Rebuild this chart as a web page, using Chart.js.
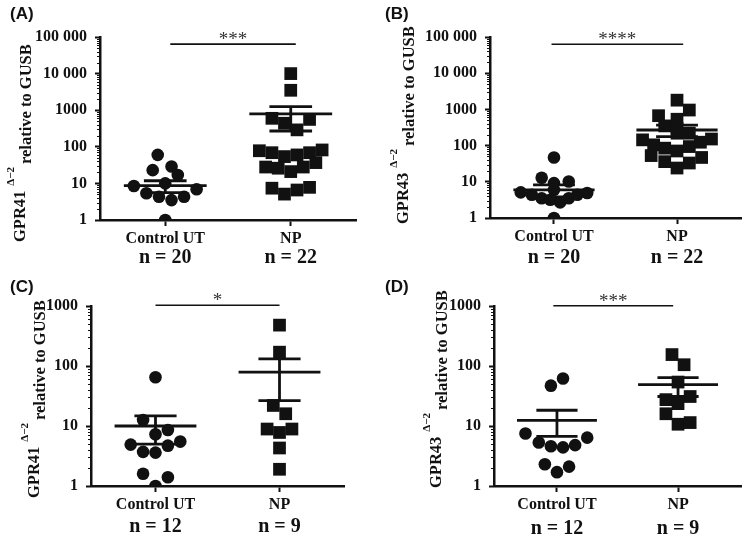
<!DOCTYPE html>
<html>
<head>
<meta charset="utf-8">
<script src="https://cdn.jsdelivr.net/npm/chart.js@4.4.1/dist/chart.umd.min.js"></script>
<style>
  html, body { margin: 0; padding: 0; background: #fff; }
  #fig { position: relative; width: 750px; height: 537px; overflow: hidden; }
  .panel { position: absolute; }
</style>
</head>
<body>
<div id="fig">
  <div class="panel" style="left:0;top:0;width:375px;height:268px"><canvas id="chart-a"></canvas></div>
  <div class="panel" style="left:375px;top:0;width:375px;height:268px"><canvas id="chart-b"></canvas></div>
  <div class="panel" style="left:0;top:268px;width:375px;height:269px"><canvas id="chart-c"></canvas></div>
  <div class="panel" style="left:375px;top:268px;width:375px;height:269px"><canvas id="chart-d"></canvas></div>
</div>
<script>
const GROUPS = ['Control UT', 'NP'];
const Y_LABELS = ['1', '10', '100', '1000', '10 000', '100 000'];

// (A) GPR41, full cohort
const A_CTRL = [1, 8.5, 6.9, 60, 23, 29, 17, 10, 5.4, 4.3, 3.5, 4.3];
const A_CTRL_JIT = [0, -0.25, 0.25, -0.06, -0.1, 0.05, 0.1, 0, -0.15, -0.05, 0.05, 0.15];
const A_NP = [10000, 3500, 600, 440, 560, 290, 78, 69, 54, 60, 69, 82, 28, 26, 21, 28, 37, 7.4, 5.1, 6.6, 7.8];
const A_NP_JIT = [0, 0, -0.15, -0.05, 0.15, 0.05, -0.25, -0.15, -0.05, 0.05, 0.15, 0.25, -0.2, -0.1, 0, 0.1, 0.2, -0.15, -0.05, 0.05, 0.15];
const A_MEAN = [8.7, 790];
const A_SEM_HI = [11.8, 1250];
const A_SEM_LO = [5.6, 270];
const A_N = ['n = 20', 'n = 22'];

// (B) GPR43, full cohort
const B_CTRL = [1, 47, 13, 10.2, 9.2, 6, 5.1, 4.4, 3.5, 3.2, 2.7, 3.5, 4.4, 4.9];
const B_CTRL_JIT = [0, 0, -0.1, 0.12, 0, 0, -0.27, -0.18, -0.1, -0.03, 0.05, 0.12, 0.19, 0.27];
const B_NP = [1800, 960, 670, 535, 350, 300, 220, 220, 144, 105, 85, 71, 94, 124, 152, 53, 36, 24, 33, 47];
const B_NP_JIT = [0, 0.1, -0.15, 0, -0.1, 0, 0, 0.1, -0.28, -0.19, -0.1, 0, 0.1, 0.19, 0.28, -0.21, -0.1, 0, 0.1, 0.2];
const B_MEAN = [6.0, 270];
const B_SEM_HI = [8.2, 370];
const B_SEM_LO = [3.8, 178];
const B_N = ['n = 20', 'n = 22'];

// (C) GPR41, subgroup
const C_CTRL = [65, 12.6, 7.3, 8.6, 5.5, 4.7, 3.7, 3.6, 1.6, 1.4, 1, 4.9];
const C_CTRL_JIT = [0, -0.1, 0, 0.1, 0.2, 0.1, -0.1, 0, -0.1, 0.1, 0, -0.2];
const C_NP = [480, 170, 22, 16, 8.9, 7.8, 8.9, 4.3, 1.9];
const C_NP_JIT = [0, 0, -0.05, 0.05, -0.1, 0, 0.1, 0, 0];
const C_MEAN = [10, 79];
const C_SEM_HI = [14.8, 131];
const C_SEM_LO = [5.0, 26.5];
const C_N = ['n = 12', 'n = 9'];

// (D) GPR43, subgroup
const D_CTRL = [62, 47, 7.5, 5.3, 4.6, 4.4, 4.8, 6.4, 2.3, 1.7, 2.1];
const D_CTRL_JIT = [0.05, -0.05, -0.26, -0.15, -0.05, 0.05, 0.15, 0.25, -0.1, 0, 0.1];
const D_NP = [155, 105, 54, 27.5, 31, 23.6, 16, 10.7, 11.4];
const D_NP_JIT = [-0.05, 0.05, 0, -0.1, 0.1, 0, -0.1, 0, 0.1];
const D_MEAN = [12.4, 49];
const D_SEM_HI = [18.3, 64];
const D_SEM_LO = [6.7, 31];
const D_N = ['n = 12', 'n = 9'];

const STARS = ['***', '****', '*', '***'];
const SIG_Y = [64000, 63000, 1030, 1010];
const SIG_FROM = [1.04, 0.98, 1.0, 0.97];
const SIG_TO = [2.04, 2.05, 2.0, 1.96];

const INK = '#111';
Chart.defaults.font.family = '"Liberation Serif", serif';
Chart.defaults.color = INK;

function seg(x0, x1, y0, y1, width) {
  return {
    data: [{ x: x0, y: y0 }, { x: x1, y: y1 }],
    showLine: true, borderColor: INK, borderWidth: width || 2.8,
    pointRadius: 0, pointHoverRadius: 0,
  };
}

var annotate = {
  id: 'annotate',
  afterDraw: function(chart, args, o) {
    var ctx = chart.ctx, sx = chart.scales.x, sy = chart.scales.y;
    ctx.save();
    ctx.fillStyle = INK;

    ctx.font = 'bold 17px "Liberation Sans"';
    ctx.textAlign = 'left';
    ctx.textBaseline = 'alphabetic';
    ctx.fillText(o.letter, o.letterX, o.letterY);

    ctx.fillStyle = '#333';
    ctx.font = '19px "Liberation Serif"';
    ctx.textAlign = 'center';
    var mid = (sx.getPixelForValue(o.sigFrom) + sx.getPixelForValue(o.sigTo)) / 2;
    ctx.fillText(o.stars, mid, sy.getPixelForValue(o.sigY) + 1);
    ctx.fillStyle = INK;

    ctx.font = 'bold 20px "Liberation Serif"';
    o.n.forEach(function(t, i) {
      ctx.fillText(t, sx.getPixelForValue(i + 1), chart.chartArea.bottom + o.nOffset);
    });

    // minor ticks on the log axis, half the length of the decade ticks
    ctx.strokeStyle = INK;
    ctx.lineWidth = 1;
    sy.ticks.forEach(function(t) {
      if (t.major) return;
      var py = Math.round(sy.getPixelForValue(t.value)) + 0.5;
      ctx.beginPath();
      ctx.moveTo(sy.right - 3, py);
      ctx.lineTo(sy.right, py);
      ctx.stroke();
    });

    ctx.translate(o.titleX, o.titleY);
    ctx.rotate(-Math.PI / 2);
    ctx.textAlign = 'left';
    ctx.font = 'bold 16.5px "Liberation Serif"';
    ctx.fillText(o.gene, 0, 0);
    var w = ctx.measureText(o.gene).width + 5;
    ctx.font = 'bold 11px "Liberation Serif"';
    ctx.fillText('\u0394\u22122', w, -11);
    w += ctx.measureText('\u0394\u22122').width + 3;
    ctx.font = 'bold 16.5px "Liberation Serif"';
    ctx.fillText('relative to GUSB', w, 6);
    ctx.restore();
  }
};

function makePanel(id, p) {
  var datasets = [
    {
      data: p.ctrl.map(function(v, i) { return { x: 1 + p.ctrlJit[i], y: v }; }),
      pointStyle: 'circle', pointRadius: 6.3, backgroundColor: INK, borderWidth: 0,
    },
    {
      data: p.np.map(function(v, i) { return { x: 2 + p.npJit[i], y: v }; }),
      pointStyle: 'rect', pointRadius: 9, backgroundColor: INK, borderWidth: 0,
    },
  ];
  [1, 2].forEach(function(g, i) {
    datasets.push(seg(g - 0.33, g + 0.33, p.mean[i], p.mean[i]));
    datasets.push(seg(g - 0.17, g + 0.17, p.hi[i], p.hi[i]));
    datasets.push(seg(g - 0.17, g + 0.17, p.lo[i], p.lo[i]));
    datasets.push(seg(g, g, p.lo[i], p.hi[i]));
  });
  var bar = seg(p.sigFrom, p.sigTo, p.sigY, p.sigY, 1.6);
  bar.clip = false;
  datasets.push(bar);

  new Chart(document.getElementById(id), {
    type: 'scatter',
    data: { datasets: datasets },
    plugins: [annotate],
    options: {
      responsive: true,
      maintainAspectRatio: false,
      animation: false,
      layout: { padding: { left: 0, top: p.top, right: p.right, bottom: 0 } },
      scales: {
        x: {
          type: 'linear', min: 0.48, max: 2.52,
          afterBuildTicks: function(s) { s.ticks = GROUPS.map(function(g, i) { return { value: i + 1 }; }); },
          afterFit: function(s) { s.height = p.xHeight; },
          ticks: {
            autoSkip: false, maxRotation: 0, padding: 3, color: INK,
            font: { family: '"Liberation Serif"', weight: 'bold', size: 16 },
            callback: function(v, i) { return GROUPS[i]; },
          },
          grid: { drawOnChartArea: false, tickLength: 6, tickWidth: 2, tickColor: INK },
          border: { color: INK, width: 2.5 },
        },
        y: {
          type: 'logarithmic', min: 1, max: p.yMax,
          afterBuildTicks: function(s) {
            var t = [];
            for (var e = 0; Math.pow(10, e) <= p.yMax; e++) {
              for (var m = 1; m <= 9; m++) {
                var v = m * Math.pow(10, e);
                if (v > p.yMax) break;
                t.push({ value: v, major: m === 1 });
              }
            }
            s.ticks = t;
          },
          afterFit: function(s) { s.width = p.yWidth; },
          ticks: {
            autoSkip: false, padding: 8, color: INK,
            font: { family: '"Liberation Serif"', weight: 'bold', size: 16 },
            callback: function(v) {
              var e = Math.round(Math.log10(v));
              return Math.abs(Math.pow(10, e) - v) < 1e-6 ? Y_LABELS[e] : '';
            },
          },
          grid: {
            drawOnChartArea: false, tickLength: 5, tickColor: INK,
            tickWidth: function(c) { return c.tick && c.tick.major ? 2 : 0; },
          },
          border: { color: INK, width: 2.5 },
        },
      },
      plugins: {
        legend: { display: false },
        tooltip: { enabled: false },
        annotate: {
          letter: p.letter, letterX: 10, letterY: p.letterY,
          stars: p.stars, sigY: p.sigY, sigFrom: p.sigFrom, sigTo: p.sigTo,
          n: p.n, nOffset: p.nOffset,
          gene: p.gene, titleX: p.titleX, titleY: p.titleY,
        },
      },
    },
  });
}

makePanel('chart-a', {
  letter: '(A)', letterY: 19, gene: 'GPR41', titleX: 25, titleY: 242,
  ctrl: A_CTRL, ctrlJit: A_CTRL_JIT, np: A_NP, npJit: A_NP_JIT,
  mean: A_MEAN, hi: A_SEM_HI, lo: A_SEM_LO, n: A_N,
  stars: STARS[0], sigY: SIG_Y[0], sigFrom: SIG_FROM[0], sigTo: SIG_TO[0],
  yMax: 100000, yWidth: 100, top: 37, right: 19, xHeight: 48, nOffset: 43,
});
makePanel('chart-b', {
  letter: '(B)', letterY: 19, gene: 'GPR43', titleX: 33, titleY: 224,
  ctrl: B_CTRL, ctrlJit: B_CTRL_JIT, np: B_NP, npJit: B_NP_JIT,
  mean: B_MEAN, hi: B_SEM_HI, lo: B_SEM_LO, n: B_N,
  stars: STARS[1], sigY: SIG_Y[1], sigFrom: SIG_FROM[1], sigTo: SIG_TO[1],
  yMax: 100000, yWidth: 115, top: 37, right: 6, xHeight: 50, nOffset: 45,
});
makePanel('chart-c', {
  letter: '(C)', letterY: 24, gene: 'GPR41', titleX: 39, titleY: 230,
  ctrl: C_CTRL, ctrlJit: C_CTRL_JIT, np: C_NP, npJit: C_NP_JIT,
  mean: C_MEAN, hi: C_SEM_HI, lo: C_SEM_LO, n: C_N,
  stars: STARS[2], sigY: SIG_Y[2], sigFrom: SIG_FROM[2], sigTo: SIG_TO[2],
  yMax: 1000, yWidth: 91, top: 38, right: 31, xHeight: 51, nOffset: 46,
});
makePanel('chart-d', {
  letter: '(D)', letterY: 24, gene: 'GPR43', titleX: 66, titleY: 220,
  ctrl: D_CTRL, ctrlJit: D_CTRL_JIT, np: D_NP, npJit: D_NP_JIT,
  mean: D_MEAN, hi: D_SEM_HI, lo: D_SEM_LO, n: D_N,
  stars: STARS[3], sigY: SIG_Y[3], sigFrom: SIG_FROM[3], sigTo: SIG_TO[3],
  yMax: 1000, yWidth: 119, top: 38, right: 3, xHeight: 51, nOffset: 48,
});
</script>
</body>
</html>
